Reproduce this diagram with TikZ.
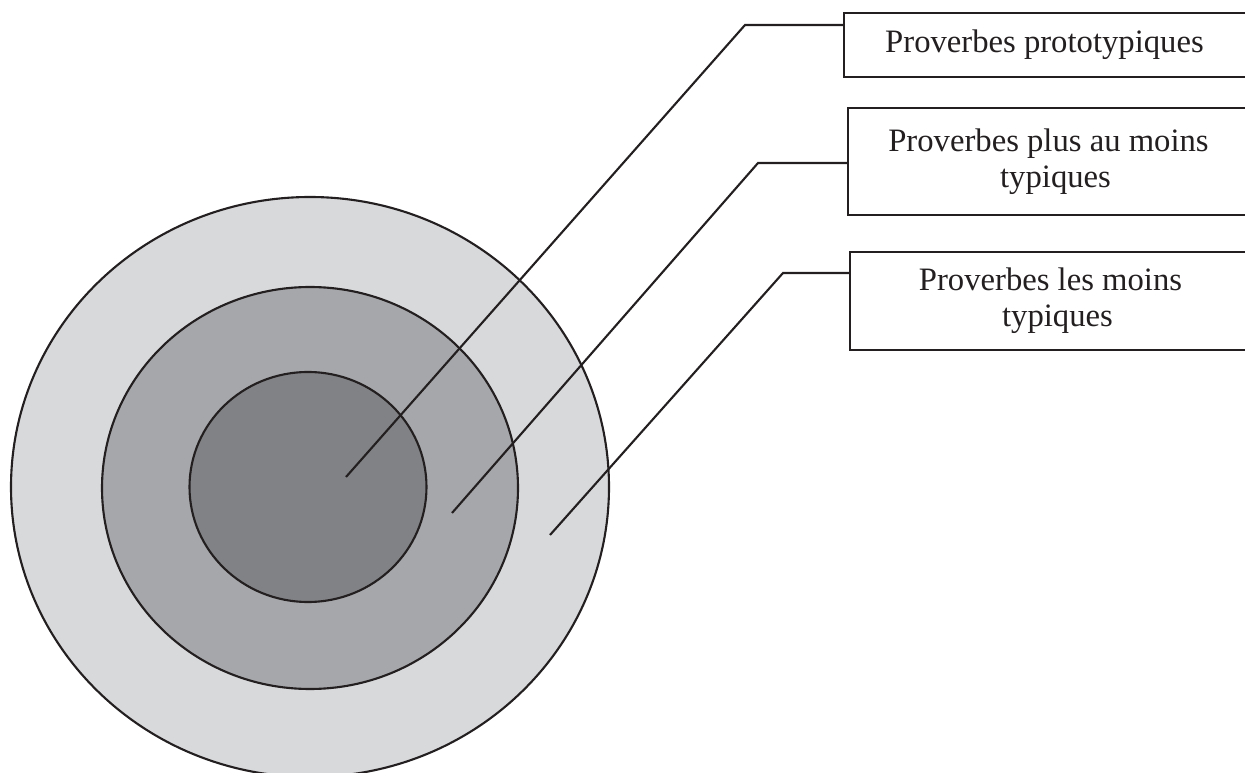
\documentclass[tikz,border=0pt]{standalone}
\usepackage{fontspec}
\setmainfont{Liberation Serif}
\usepackage{xcolor}
\usetikzlibrary{calc}
\definecolor{centre}{RGB}{129,130,133}
\definecolor{milieu}{RGB}{166,167,170}
\definecolor{bord}{RGB}{216,217,219}
\definecolor{trait}{RGB}{35,31,32}

\begin{document}
\begin{tikzpicture}[x = 0.02cm, y = -0.02cm, line width = 1.2pt, color = trait,
    etiquette/.style = {draw, line width = 1.2pt, minimum width = 8.3cm, inner sep = 0pt, align = center, font = \fontsize{18.6}{20.5}\selectfont}]
    % Parametri
    \pgfmathsetmacro{\cx}{310}
    \pgfmathsetmacro{\cy}{487}
    % Cadre
    \path[use as bounding box, clip] (0,0) rectangle (1245,773);
    % Cercles
    \filldraw[fill = bord] (\cx,\cy) ellipse [x radius = 299, y radius = 290];
    \filldraw[fill = milieu] (\cx,\cy+1) ellipse [x radius = 208, y radius = 201];
    \filldraw[fill = centre] (\cx-2,\cy) ellipse [x radius = 118.5, y radius = 115];
    % Etiquettes
    \node[etiquette, minimum height = 1.28cm, anchor = west] (proto) at (843,45) {\hspace*{-8pt}Proverbes prototypiques};
    \node[etiquette, minimum height = 2.14cm, anchor = west] (plus) at (847,161.5) {\hspace*{-8pt}Proverbes plus au moins\\typiques};
    \node[etiquette, minimum height = 1.96cm, anchor = west] (moins) at (849,301) {\hspace*{-8pt}Proverbes les moins\\typiques};
    % Traits
    \coordinate (coude1) at (745,25);
    \coordinate (pointe1) at (346,477);
    \coordinate (coude2) at (758,163);
    \coordinate (pointe2) at (452,513);
    \coordinate (coude3) at (783,273);
    \coordinate (pointe3) at (550,535);
    \draw (proto.west |- coude1) -- (coude1) -- (pointe1);
    \draw (plus.west |- coude2) -- (coude2) -- (pointe2);
    \draw (moins.west |- coude3) -- (coude3) -- (pointe3);
\end{tikzpicture}
\end{document}
